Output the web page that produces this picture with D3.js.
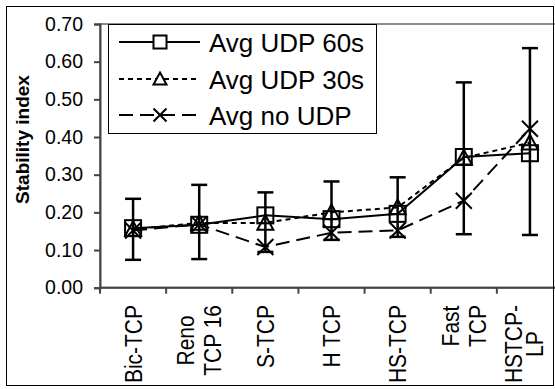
<!DOCTYPE html>
<html>
<head>
<meta charset="utf-8">
<script src="https://cdn.jsdelivr.net/npm/d3@7"></script>
<style>
  body { margin: 0; background: #fff; }
  svg { display: block; font-family: "Liberation Sans", Arial, sans-serif; }
</style>
</head>
<body>
<div id="chart"></div>
<script>
// data
var categories = [["Bic-TCP"], ["Reno", "TCP 16"], ["S-TCP"], ["H TCP"], ["HS-TCP"], ["Fast", "TCP"], ["HSTCP-", "LP"]];
var udp60 = [0.158, 0.167, 0.192, 0.182, 0.196, 0.347, 0.357];
var udp30 = [0.155, 0.172, 0.172, 0.200, 0.213, 0.345, 0.385];
var noUdp = [0.152, 0.168, 0.108, 0.146, 0.152, 0.231, 0.422];
var errLow = [0.074, 0.076, 0.095, 0.127, 0.135, 0.142, 0.140];
var errHigh = [0.236, 0.273, 0.253, 0.282, 0.293, 0.545, 0.636];
var yTicks = [0, 0.1, 0.2, 0.3, 0.4, 0.5, 0.6, 0.7];
var legendNames = ["Avg UDP 60s", "Avg UDP 30s", "Avg no UDP"];

var width = 555,
    height = 389,
    margin = {top: 24, left: 100, bottom: 102},
    plotWidth = 463,
    plotBottom = height - margin.bottom + 0.7;

var svg = d3.select('#chart')
  .append('svg')
  .attr('width', width)
  .attr('height', height);

var x = d3.scaleBand()
  .domain(d3.range(categories.length))
  .range([margin.left, margin.left + plotWidth]);

var y = d3.scaleLinear()
  .domain([0, 0.7])
  .range([plotBottom, margin.top]);

// plot area frame
svg.append('rect')
  .attr('x', margin.left)
  .attr('y', margin.top)
  .attr('width', plotWidth)
  .attr('height', plotBottom - margin.top)
  .attr('fill', 'none')
  .attr('stroke', '#8c8c8c')
  .attr('stroke-width', 2);

// y axis
var yAxis = svg.append('g')
  .attr('transform', 'translate(' + margin.left + ',0)')
  .call(d3.axisLeft(y).tickValues(yTicks).tickFormat(d3.format('.2f')).tickSize(6).tickPadding(11));
yAxis.select('.domain').attr('stroke', '#444').attr('stroke-width', 2);
yAxis.selectAll('.tick line').attr('stroke', '#444').attr('stroke-width', 2);
yAxis.selectAll('text')
  .attr('font-size', 19.5)
  .attr('font-family', '"Liberation Sans", Arial, sans-serif')
  .attr('fill', '#000');

// x axis line and ticks between categories
svg.append('line')
  .attr('x1', margin.left).attr('x2', margin.left + plotWidth)
  .attr('y1', plotBottom).attr('y2', plotBottom)
  .attr('stroke', '#444').attr('stroke-width', 2);

svg.selectAll('.xtick')
  .data(d3.range(categories.length + 1))
  .enter()
  .append('line')
  .attr('x1', function(i) { return margin.left + i * x.step(); })
  .attr('x2', function(i) { return margin.left + i * x.step(); })
  .attr('y1', plotBottom)
  .attr('y2', plotBottom + 6)
  .attr('stroke', '#444')
  .attr('stroke-width', 2);

// rotated category labels, lines centred in a block ending near the axis
var labelTop = 305, capH = 17, maxRight = 543;
categories.forEach(function(lines, i) {
  var cx = x(i) + x.bandwidth() / 2;
  var lineH = 27;
  var n = lines.length;
  // squeeze the block when it would run past the chart border
  var shift = 0;
  if (cx + capH / 2 + (n - 1) * lineH / 2 > maxRight) {
    lineH = 21.5;
    shift = maxRight - (cx + capH / 2 + (n - 1) * lineH / 2);
  }
  var g = svg.append('g')
    .attr('transform', 'translate(' + (cx + shift) + ',' + labelTop + ') rotate(-90) scale(1,1.15)');
  var texts = g.selectAll('text')
    .data(lines)
    .enter()
    .append('text')
    .attr('font-size', 21)
    .attr('text-anchor', 'middle')
    .text(function(d) { return d; });
  var maxLen = d3.max(texts.nodes(), function(nd) { return nd.getComputedTextLength(); });
  texts
    .attr('x', -maxLen / 2)
    .attr('y', function(d, j) {
      return (capH / 2 + (j - (n - 1) / 2) * lineH) / 1.15;
    });
});

// y title
svg.append('text')
  .attr('transform', 'translate(29,139.5) rotate(-90)')
  .attr('text-anchor', 'middle')
  .attr('font-size', 19)
  .attr('font-weight', 'bold')
  .text('Stability index');

// series
var series = [
  {name: legendNames[0], values: udp60, dash: null, marker: 'square'},
  {name: legendNames[1], values: udp30, dash: '5,4', marker: 'triangle'},
  {name: legendNames[2], values: noUdp, dash: '14,7', marker: 'cross'}
];

var line = d3.line()
  .x(function(d, i) { return x(i) + x.bandwidth() / 2; })
  .y(function(d) { return y(d); });

function drawMarker(g, type, s, fill) {
  var m;
  if (type === 'square') {
    m = g.append('rect')
      .attr('x', -s).attr('y', -s)
      .attr('width', 2 * s).attr('height', 2 * s);
  } else if (type === 'triangle') {
    m = g.append('path')
      .attr('d', 'M0,' + (-s) + 'L' + s + ',' + (s * 0.85) + 'L' + (-s) + ',' + (s * 0.85) + 'Z');
  } else {
    m = g.append('path')
      .attr('d', 'M' + (-s) + ',' + (-s) + 'L' + s + ',' + s + 'M' + s + ',' + (-s) + 'L' + (-s) + ',' + s);
  }
  m.attr('fill', fill || 'none').attr('stroke', '#000').attr('stroke-width', 2);
}

series.forEach(function(s) {
  svg.append('path')
    .datum(s.values)
    .attr('d', line)
    .attr('fill', 'none')
    .attr('stroke', '#000')
    .attr('stroke-width', 2)
    .attr('stroke-dasharray', s.dash);
});

series.forEach(function(s) {
  s.values.forEach(function(v, i) {
    var g = svg.append('g')
      .attr('transform', 'translate(' + (x(i) + x.bandwidth() / 2) + ',' + y(v) + ')');
    drawMarker(g, s.marker, 8);
  });
});

// error bars
var eb = svg.selectAll('.err')
  .data(errLow)
  .enter()
  .append('g')
  .attr('stroke', '#000')
  .attr('stroke-width', 2.5);
eb.append('line')
  .attr('x1', function(d, i) { return x(i) + x.bandwidth() / 2; })
  .attr('x2', function(d, i) { return x(i) + x.bandwidth() / 2; })
  .attr('y1', function(d) { return y(d); })
  .attr('y2', function(d, i) { return y(errHigh[i]); });
[errLow, errHigh].forEach(function(arr) {
  eb.append('line')
    .attr('x1', function(d, i) { return x(i) + x.bandwidth() / 2 - 8; })
    .attr('x2', function(d, i) { return x(i) + x.bandwidth() / 2 + 8; })
    .attr('y1', function(d, i) { return y(arr[i]); })
    .attr('y2', function(d, i) { return y(arr[i]); });
});

// legend
var legend = svg.append('g');
legend.append('rect')
  .attr('x', 108.5).attr('y', 24.5)
  .attr('width', 268).attr('height', 109)
  .attr('fill', '#fff')
  .attr('stroke', '#000')
  .attr('stroke-width', 1);

var rowY = [42, 79, 115];
series.forEach(function(s, i) {
  legend.append('line')
    .attr('x1', 119).attr('x2', 200)
    .attr('y1', rowY[i]).attr('y2', rowY[i])
    .attr('stroke', '#000')
    .attr('stroke-width', 2)
    .attr('stroke-dasharray', s.dash);
  var g = legend.append('g')
    .attr('transform', 'translate(160,' + rowY[i] + ')');
  drawMarker(g, s.marker, 6.5, '#fff');
  legend.append('text')
    .attr('x', 209)
    .attr('y', rowY[i] + 9.5)
    .attr('font-size', 26)
    .text(s.name);
});

// outer chart border
svg.append('rect')
  .attr('x', 6.5).attr('y', 6.5)
  .attr('width', 547).attr('height', 379)
  .attr('fill', 'none')
  .attr('stroke', '#000')
  .attr('stroke-width', 1);
</script>
</body>
</html>
